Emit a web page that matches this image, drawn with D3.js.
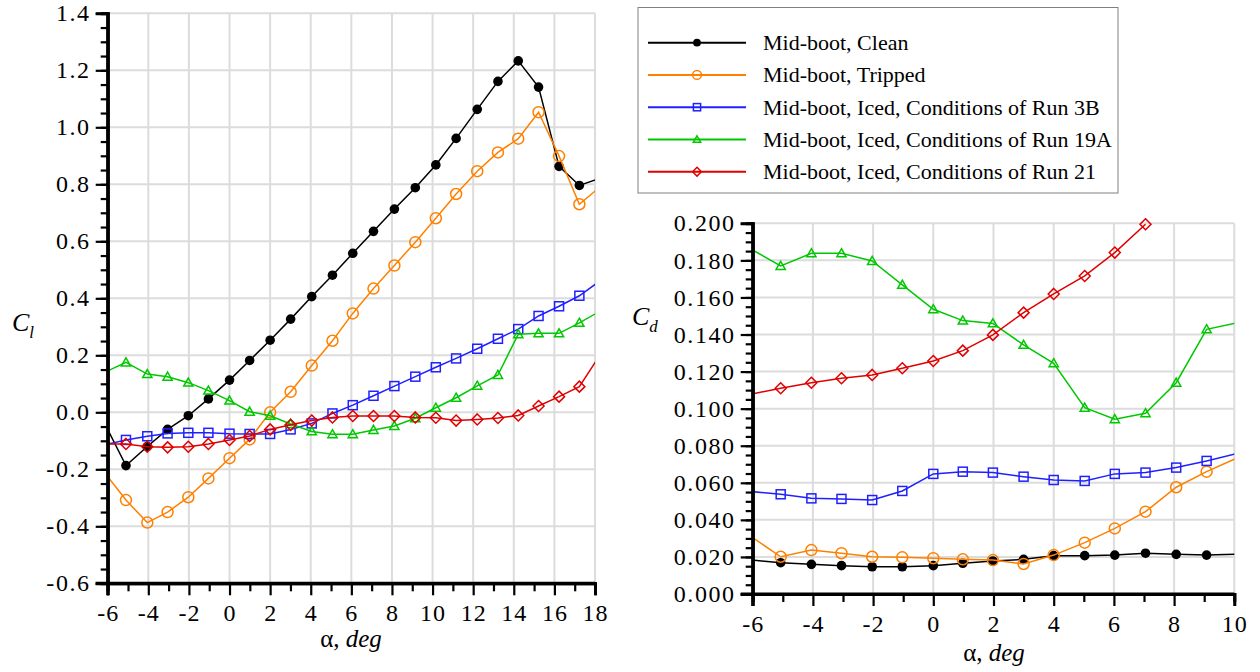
<!DOCTYPE html>
<html>
<head>
<meta charset="utf-8">
<script src="https://cdn.jsdelivr.net/npm/d3@7"></script>
<style>
  body { margin: 0; background: #fff; }
</style>
</head>
<body>
<div id="chart"></div>
<script>
const FONT = "'Liberation Serif', 'Times New Roman', Times, serif";

// series names (legend order)
const seriesNames = [
  "Mid-boot, Clean",
  "Mid-boot, Tripped",
  "Mid-boot, Iced, Conditions of Run 3B",
  "Mid-boot, Iced, Conditions of Run 19A",
  "Mid-boot, Iced, Conditions of Run 21"
];

// lift curve, angle of attack (points at -7 and 19 sit outside the axes, lines run to the edge)
const alphaCl = [-7, -5.1, -4.05, -3.05, -2.03, -1.04, 0, 0.99, 2.0, 3.01, 4.05, 5.07, 6.07, 7.09, 8.12, 9.15, 10.16, 11.16, 12.2, 13.22, 14.22, 15.22, 16.23, 17.23, 19];
const clClean   = [0.08, -0.187, -0.12, -0.06, -0.012, 0.047, 0.113, 0.182, 0.253, 0.327, 0.406, 0.481, 0.558, 0.635, 0.713, 0.788, 0.868, 0.961, 1.063, 1.161, 1.233, 1.141, 0.863, 0.796, 0.84];
const clTripped = [-0.135, -0.308, -0.387, -0.35, -0.298, -0.232, -0.161, -0.095, 0.0, 0.072, 0.164, 0.251, 0.347, 0.434, 0.515, 0.597, 0.681, 0.766, 0.846, 0.912, 0.96, 1.053, 0.899, 0.73, 0.836];
const clRun3B   = [-0.127, -0.097, -0.084, -0.074, -0.072, -0.072, -0.075, -0.076, -0.076, -0.06, -0.039, -0.004, 0.025, 0.058, 0.092, 0.125, 0.158, 0.189, 0.223, 0.258, 0.292, 0.338, 0.372, 0.409, 0.5];
const clRun19A  = [0.112, 0.175, 0.134, 0.125, 0.104, 0.076, 0.041, 0.002, -0.012, -0.041, -0.067, -0.077, -0.077, -0.062, -0.048, -0.021, 0.016, 0.051, 0.093, 0.131, 0.274, 0.277, 0.277, 0.314, 0.385];
const clRun21   = [-0.111, -0.111, -0.121, -0.123, -0.121, -0.111, -0.097, -0.083, -0.06, -0.044, -0.029, -0.018, -0.013, -0.013, -0.013, -0.018, -0.019, -0.029, -0.025, -0.02, -0.011, 0.022, 0.055, 0.09, 0.283];

// drag curve
const alphaCd = [-7, -5.07, -4.05, -3.05, -2.03, -1.03, 0, 0.98, 1.98, 3.0, 4.0, 5.03, 6.03, 7.05, 8.07, 9.08, 11];
const cdClean   = [0.0198, 0.0169, 0.016, 0.0153, 0.0147, 0.0147, 0.0153, 0.0166, 0.0178, 0.0187, 0.0207, 0.0207, 0.021, 0.022, 0.0214, 0.021, 0.0218];
const cdTripped = [0.0415, 0.0201, 0.0237, 0.022, 0.0201, 0.0198, 0.0193, 0.0187, 0.0183, 0.0162, 0.021, 0.0277, 0.0354, 0.0444, 0.0576, 0.066, 0.08];
const cdRun3B   = [0.0567, 0.0538, 0.0516, 0.0513, 0.0507, 0.0556, 0.0648, 0.066, 0.0655, 0.0633, 0.0615, 0.061, 0.0648, 0.0655, 0.0682, 0.0718, 0.0793];
const cdRun19A  = [0.1948, 0.177, 0.1838, 0.1838, 0.1797, 0.1668, 0.1536, 0.1475, 0.146, 0.1344, 0.1245, 0.1005, 0.0943, 0.0975, 0.114, 0.1428, 0.1495];
const cdRun21   = [0.1048, 0.111, 0.114, 0.1164, 0.1182, 0.1218, 0.1257, 0.1313, 0.1398, 0.1518, 0.1619, 0.1716, 0.1842, 0.1995, null, null, null];

// tick values
const clTicks = [-0.6, -0.4, -0.2, 0.0, 0.2, 0.4, 0.6, 0.8, 1.0, 1.2, 1.4];
const clAlphaTicks = [-6, -4, -2, 0, 2, 4, 6, 8, 10, 12, 14, 16, 18];
const cdTicks = [0.0, 0.02, 0.04, 0.06, 0.08, 0.1, 0.12, 0.14, 0.16, 0.18, 0.2];
const cdAlphaTicks = [-6, -4, -2, 0, 2, 4, 6, 8, 10];

const colors = ["#000000", "#ff8000", "#2020ff", "#00c800", "#e00000"];
const markers = ["dot", "circle", "square", "triangle", "diamond"];

// plain hyphen for negatives, like the original
const hyphen = f => d => f(d).replace("\u2212", "-");

const svg = d3.select("#chart").append("svg")
  .attr("width", 1260)
  .attr("height", 672)
  .style("font-family", FONT);

function drawMarker(g, type, color, x, y, s) {
  if (type === "dot") {
    g.append("circle").attr("cx", x).attr("cy", y).attr("r", 4.8 * s).attr("fill", color);
  } else if (type === "circle") {
    g.append("circle").attr("cx", x).attr("cy", y).attr("r", 5.5 * s)
      .attr("fill", "none").attr("stroke", color).attr("stroke-width", 1.5);
  } else if (type === "square") {
    const h = 4.5 * s;
    g.append("rect").attr("x", x - h).attr("y", y - h).attr("width", 2 * h).attr("height", 2 * h)
      .attr("fill", "none").attr("stroke", color).attr("stroke-width", 1.5);
  } else if (type === "triangle") {
    const h = 4.6 * s;
    g.append("path").attr("d", `M${x},${y - h}L${x + h},${y + h * 0.75}L${x - h},${y + h * 0.75}Z`)
      .attr("fill", "none").attr("stroke", color).attr("stroke-width", 1.5);
  } else {
    const h = 5.5 * s;
    g.append("path").attr("d", `M${x},${y - h}L${x + h},${y}L${x},${y + h}L${x - h},${y}Z`)
      .attr("fill", "none").attr("stroke", color).attr("stroke-width", 1.5);
  }
}

function panel(opt) {
  const x = d3.scaleLinear().domain(opt.xDomain).range([opt.left, opt.right]);
  const y = d3.scaleLinear().domain(opt.yDomain).range([opt.bottom, opt.top]);
  const g = svg.append("g");

  // grid
  g.append("g").selectAll("line").data(opt.xTicks.slice(1)).join("line")
    .attr("x1", d => x(d)).attr("x2", d => x(d))
    .attr("y1", opt.top).attr("y2", opt.bottom)
    .attr("stroke", "#dcdcdc").attr("stroke-width", 2);
  g.append("g").selectAll("line").data(opt.yTicks.slice(1)).join("line")
    .attr("x1", opt.left).attr("x2", opt.right)
    .attr("y1", d => y(d)).attr("y2", d => y(d))
    .attr("stroke", "#dcdcdc").attr("stroke-width", 2);

  // series
  const clipId = "clip" + opt.id;
  g.append("clipPath").attr("id", clipId).append("rect")
    .attr("x", opt.left).attr("y", opt.top - 8)
    .attr("width", opt.right - opt.left).attr("height", opt.bottom - opt.top + 8);
  const line = d3.line()
    .defined(d => d[1] !== null)
    .x(d => x(d[0])).y(d => y(d[1]));
  opt.series.forEach((vals, i) => {
    const pts = opt.alpha.map((a, j) => [a, vals[j]]);
    g.append("path").datum(pts)
      .attr("clip-path", `url(#${clipId})`)
      .attr("fill", "none").attr("stroke", colors[i]).attr("stroke-width", 1.5)
      .attr("d", line);
    const mg = g.append("g");
    pts.filter(p => p[1] !== null && p[0] >= opt.xDomain[0] && p[0] <= opt.xDomain[1])
      .forEach(p => drawMarker(mg, markers[i], colors[i], x(p[0]), y(p[1]), 1));
  });

  // axes
  g.append("g").attr("class", "yax").attr("transform", `translate(${opt.left},0)`)
    .call(d3.axisLeft(y).tickValues(opt.yTicks).tickFormat(hyphen(opt.yFormat)).tickSize(12).tickPadding(5));
  g.append("g").attr("transform", `translate(${opt.left},0)`)
    .call(d3.axisLeft(y).tickValues(d3.range(opt.yDomain[0], opt.yDomain[1] + 1e-9, opt.yMinor)).tickFormat("").tickSize(7));
  g.append("g").attr("transform", `translate(0,${opt.bottom})`)
    .call(d3.axisBottom(x).tickValues(opt.xTicks).tickFormat(hyphen(d3.format("d"))).tickSize(12).tickPadding(9));
  g.append("g").attr("transform", `translate(0,${opt.bottom})`)
    .call(d3.axisBottom(x).tickValues(d3.range(opt.xDomain[0] + 1, opt.xDomain[1], 2)).tickFormat("").tickSize(8));

  g.selectAll("g").attr("font-family", FONT);
  g.selectAll(".domain").attr("stroke", "#000").attr("stroke-width", 3);
  g.selectAll(".tick line").attr("stroke", "#000").attr("stroke-width", 2.2);
  g.selectAll(".tick text").style("font-family", FONT).style("font-size", "24px")
    .style("letter-spacing", "1px").attr("fill", "#000");
  g.selectAll(".yax .tick text").style("letter-spacing", "1.6px");
  // extend the axis lines over the corner ticks
  g.append("line").attr("x1", opt.left).attr("x2", opt.left)
    .attr("y1", opt.top - 1).attr("y2", opt.bottom + 12).attr("stroke", "#000").attr("stroke-width", 3);
  g.append("line").attr("x1", opt.left - 12).attr("x2", opt.right)
    .attr("y1", opt.bottom).attr("y2", opt.bottom).attr("stroke", "#000").attr("stroke-width", 3);

  // axis titles
  const xt = g.append("text").attr("x", opt.xTitle[0]).attr("y", opt.xTitle[1])
    .attr("text-anchor", "middle").style("font-family", FONT).style("font-size", "25px");
  xt.append("tspan").text("\u03b1, ");
  xt.append("tspan").style("font-style", "italic").text("deg");
  const yt = g.append("text").attr("x", opt.yTitle[0]).attr("y", opt.yTitle[1])
    .style("font-family", FONT).style("font-size", "26px").style("font-style", "italic");
  yt.append("tspan").text("C");
  yt.append("tspan").attr("dy", 7).style("font-size", "17px").text(opt.yTitle[2]);
}

panel({
  id: "cl", left: 107.7, right: 595, top: 13.3, bottom: 583.3,
  xDomain: [-6, 18], yDomain: [-0.6, 1.4],
  xTicks: clAlphaTicks, yTicks: clTicks, yMinor: 0.05, yFormat: d3.format(".1f"),
  alpha: alphaCl, series: [clClean, clTripped, clRun3B, clRun19A, clRun21],
  xTitle: [351, 647], yTitle: [12, 331, "l"]
});

panel({
  id: "cd", left: 752.7, right: 1234.3, top: 223.3, bottom: 594,
  xDomain: [-6, 10], yDomain: [0, 0.2],
  xTicks: cdAlphaTicks, yTicks: cdTicks, yMinor: 0.005, yFormat: d3.format(".3f"),
  alpha: alphaCd, series: [cdClean, cdTripped, cdRun3B, cdRun19A, cdRun21],
  xTitle: [994, 661], yTitle: [632, 325, "d"]
});

// legend
const lg = svg.append("g");
lg.append("rect").attr("x", 638).attr("y", 7.5).attr("width", 480).attr("height", 185.5)
  .attr("fill", "#fff").attr("stroke", "#808080").attr("stroke-width", 1);
const legendY = d3.scalePoint().domain(seriesNames).range([42.7, 171.7]);
seriesNames.forEach((name, i) => {
  const yy = legendY(name);
  lg.append("line").attr("x1", 648).attr("x2", 746).attr("y1", yy).attr("y2", yy)
    .attr("stroke", colors[i]).attr("stroke-width", 2);
  drawMarker(lg, markers[i], colors[i], 697, yy, 0.8);
  lg.append("text").attr("x", 763).attr("y", yy + 7.5)
    .style("font-family", FONT).style("font-size", "22px").text(name);
});
</script>
</body>
</html>
